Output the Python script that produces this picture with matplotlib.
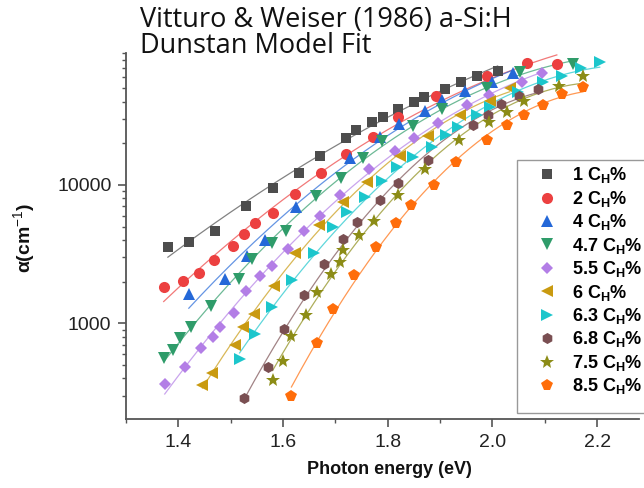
import matplotlib.pyplot as plt
import numpy as np
from matplotlib.patches import Rectangle
from matplotlib.ticker import LogLocator, FuncFormatter, MultipleLocator, NullFormatter

plt.rcParams['font.family'] = ['Liberation Sans', 'DejaVu Sans']
plt.rcParams['mathtext.fontset'] = 'custom'
plt.rcParams['mathtext.rm'] = 'Liberation Sans'
plt.rcParams['mathtext.bf'] = 'Liberation Sans:bold'

# hydrogen content of each sample (C_H %)
ch = ['1', '2', '4', '4.7', '5.5', '6', '6.3', '6.8', '7.5', '8.5']

# photon energy (eV) and absorption coefficient (cm^-1)
e1 = [1.380, 1.420, 1.470, 1.530, 1.580, 1.630, 1.670, 1.720, 1.740, 1.770, 1.790, 1.820, 1.850, 1.870, 1.910, 1.940, 1.970, 2.010]
a1 = [3550, 3890, 4650, 7000, 9450, 12300, 16200, 21700, 24900, 28600, 30900, 35700, 39700, 43100, 49200, 55300, 61700, 67000]

e2 = [1.372, 1.409, 1.440, 1.469, 1.505, 1.526, 1.547, 1.580, 1.622, 1.672, 1.721, 1.772, 1.819, 1.892, 1.990, 2.066, 2.123]
a2 = [1840, 2020, 2320, 2860, 3590, 4400, 5290, 6270, 8610, 12300, 16800, 22100, 30800, 44200, 61100, 76200, 74600]

e4 = [1.420, 1.489, 1.531, 1.566, 1.625, 1.728, 1.785, 1.821, 1.871, 1.903, 1.948, 2.000, 2.039]
a4 = [1620, 2100, 3080, 4030, 6930, 15700, 22400, 27400, 34400, 41200, 48200, 55300, 64000]

e47 = [1.372, 1.390, 1.404, 1.425, 1.462, 1.515, 1.541, 1.578, 1.606, 1.663, 1.710, 1.752, 1.789, 1.848, 1.904, 1.990, 2.052, 2.154]
a47 = [558, 641, 779, 945, 1330, 2100, 2910, 3790, 4630, 8300, 11300, 15700, 20700, 26700, 35200, 50300, 65100, 75400]

e55 = [1.374, 1.412, 1.444, 1.466, 1.480, 1.506, 1.529, 1.556, 1.578, 1.609, 1.640, 1.670, 1.708, 1.765, 1.813, 1.850, 1.896, 1.952, 1.994, 2.057, 2.094]
a55 = [364, 485, 659, 792, 935, 1190, 1720, 2190, 2580, 3470, 4670, 5990, 8470, 13000, 17700, 22000, 28100, 37700, 44500, 55800, 64500]

e6 = [1.446, 1.464, 1.508, 1.523, 1.544, 1.582, 1.622, 1.668, 1.715, 1.760, 1.824, 1.877, 1.938, 1.995, 2.033]
a6 = [358, 439, 693, 932, 1160, 1860, 3210, 5110, 7570, 10500, 16100, 22700, 32100, 40800, 50300]

e63 = [1.517, 1.547, 1.579, 1.617, 1.659, 1.696, 1.722, 1.757, 1.789, 1.817, 1.849, 1.885, 1.912, 1.934, 1.970, 1.995, 2.049, 2.097, 2.132, 2.170, 2.205]
a63 = [549, 832, 1310, 2040, 3240, 4930, 6350, 8230, 10700, 13400, 15900, 18800, 22900, 26100, 32100, 36800, 47300, 55300, 61400, 69800, 77200]

e68 = [1.526, 1.572, 1.602, 1.640, 1.679, 1.714, 1.742, 1.785, 1.820, 1.877, 1.962, 1.992, 2.016, 2.050, 2.088]
a68 = [287, 481, 909, 1610, 2680, 4050, 5400, 7790, 10300, 15200, 27300, 32100, 38200, 44200, 49200]

e75 = [1.580, 1.600, 1.616, 1.644, 1.664, 1.691, 1.708, 1.715, 1.746, 1.774, 1.820, 1.872, 1.936, 1.994, 2.027, 2.060, 2.127, 2.173]
a75 = [389, 536, 809, 1140, 1680, 2260, 2760, 3390, 4350, 5490, 8470, 13100, 21000, 28500, 33900, 40600, 51700, 61100]

e85 = [1.616, 1.664, 1.696, 1.735, 1.777, 1.816, 1.844, 1.888, 1.931, 1.990, 2.028, 2.061, 2.097, 2.133, 2.173]
a85 = [296, 717, 1260, 2230, 3580, 5340, 7130, 9950, 14600, 21200, 27000, 32100, 37900, 45500, 51400]

energies = [e1, e2, e4, e47, e55, e6, e63, e68, e75, e85]
alphas = [a1, a2, a4, a47, a55, a6, a63, a68, a75, a85]

colors = ['#4d4d4d', '#ec4040', '#2468d8', '#2f9c6a', '#b37ee6',
          '#c99a10', '#1cc6cc', '#7a4f52', '#8c8c16', '#ff6d0a']
markers = ['s', 'o', '^', 'v', 'D', '<', '>', 'h', '*', 'p']
msizes = [7, 8, 8, 8, 6.5, 8, 8, 8, 10, 8.5]

fig = plt.figure(figsize=(6.44, 4.88), dpi=100)
ax = fig.add_axes([126 / 644, 1 - 419.3 / 488, 513 / 644, (419.3 - 53) / 488])

for e, a, c, m, s, lab in zip(energies, alphas, colors, markers, msizes, ch):
    e = np.array(e)
    a = np.array(a)
    # smooth model curve through the points
    coef = np.polyfit(e, np.log10(a), 2)
    ee = np.linspace(e[0], e[-1], 150)
    ax.plot(ee, 10 ** np.polyval(coef, ee), color=c, lw=0.9, alpha=0.7, zorder=2)
    ax.plot(e, a, ls='none', marker=m, ms=s, color=c, mew=0, zorder=3,
            label=lab + r' C$_\mathbf{H}$%')

ax.set_yscale('log')
ax.set_xlim(1.3, 2.28)
ax.set_ylim(202, 90000)

ax.xaxis.set_major_locator(MultipleLocator(0.2))
ax.xaxis.set_minor_locator(MultipleLocator(0.1))
ax.xaxis.set_major_formatter(FuncFormatter(lambda v, p: f'{v:.1f}'))
ax.yaxis.set_major_locator(LogLocator(base=10))
ax.yaxis.set_major_formatter(FuncFormatter(lambda v, p: f'{v:.0f}'))
ax.yaxis.set_minor_locator(LogLocator(base=10, subs=np.arange(2, 10)))
ax.yaxis.set_minor_formatter(NullFormatter())

for sp in ['top', 'right']:
    ax.spines[sp].set_visible(False)
for sp in ['left', 'bottom']:
    ax.spines[sp].set_color('#555555')
    ax.spines[sp].set_linewidth(1.3)

ax.tick_params(which='major', direction='out', length=5.5, width=1.2, color='#555555',
               labelsize=14, labelcolor='#222222', pad=5)
ax.tick_params(which='minor', direction='out', length=3, width=1.0, color='#555555')

fig.text(389 / 644, 1 - 470 / 488, 'Photon energy (eV)', ha='center', va='center',
         fontsize=13, fontweight='bold', color='#111111')
fig.text(25 / 644, 1 - 238 / 488, r'α(cm$^{-1}$)', ha='center', va='center',
         rotation=90, fontsize=14, fontweight='bold', color='#111111')

fig.text(140 / 644, 1 - 27 / 488, 'Vitturo & Weiser (1986) a-Si:H', ha='left', va='baseline',
         fontsize=19.5, family=['Open Sans', 'DejaVu Sans'], color='#111111')
fig.text(140 / 644, 1 - 53 / 488, 'Dunstan Model Fit', ha='left', va='baseline',
         fontsize=19.5, family=['Open Sans', 'DejaVu Sans'], color='#111111')

# legend box, running off the right edge like the original
box = Rectangle((517 / 644, 1 - 413 / 488), 150 / 644, 253 / 488, transform=fig.transFigure,
                facecolor='white', edgecolor='#999999', lw=1.0, clip_on=False, zorder=4)
ax.add_patch(box)

leg = ax.legend(loc='upper left', bbox_to_anchor=(520 / 644, 1 - 160 / 488),
                bbox_transform=fig.transFigure, frameon=False, borderpad=0.3,
                handlelength=2.4, handletextpad=0.18, labelspacing=0.19, borderaxespad=0,
                prop={'weight': 'bold', 'size': 13})
leg.set_zorder(5)

plt.savefig('out.png', dpi=100)
